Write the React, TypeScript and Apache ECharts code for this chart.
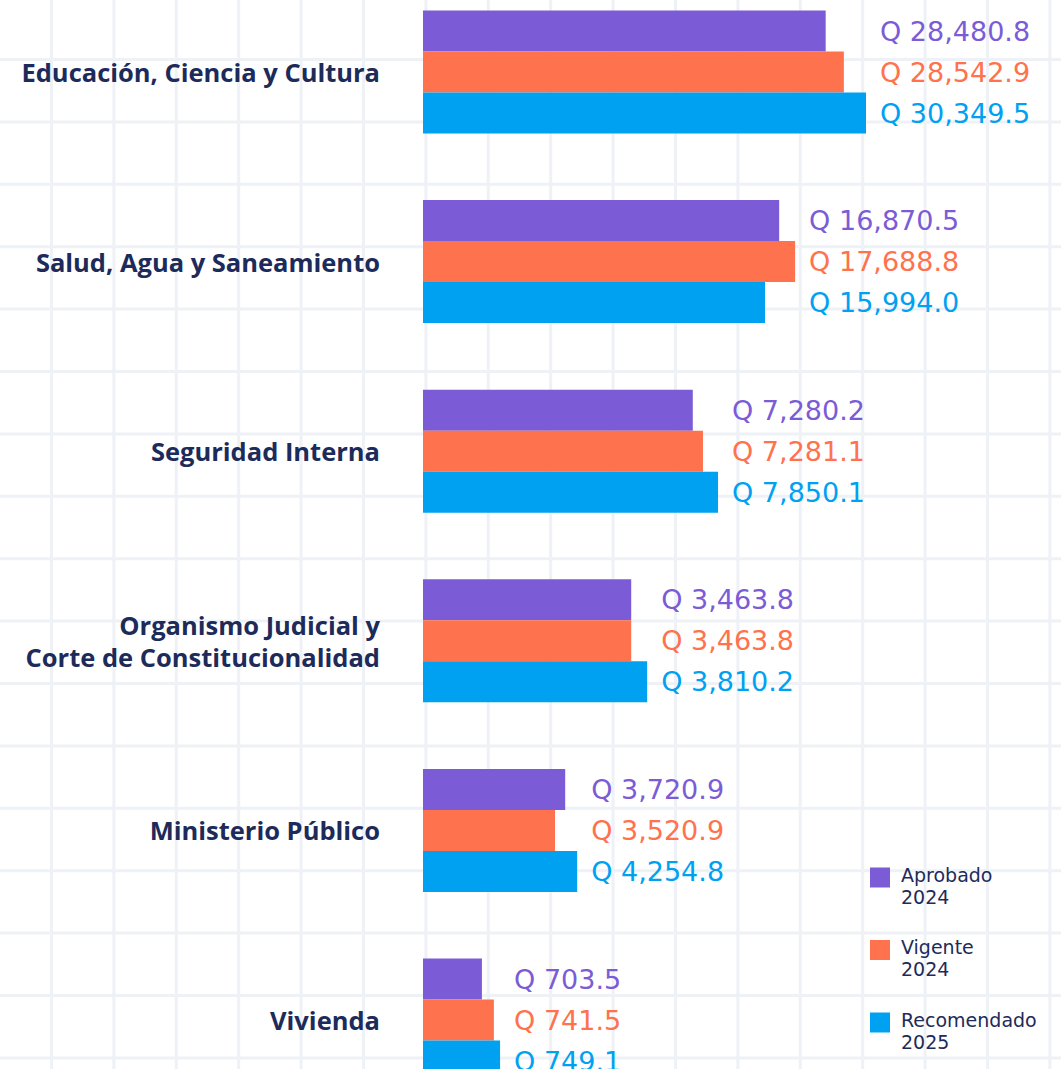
import React, { useEffect, useRef } from "react";
import * as echarts from "echarts";

// ---- Data ----
const categories = [
  "Educación, Ciencia y Cultura",
  "Salud, Agua y Saneamiento",
  "Seguridad Interna",
  "Organismo Judicial y\nCorte de Constitucionalidad",
  "Ministerio Público",
  "Vivienda",
];

const seriesNames = ["Aprobado 2024", "Vigente 2024", "Recomendado 2025"];

// Amounts in millions of quetzales (shown as labels)
const aprobado2024 = [28480.8, 16870.5, 7280.2, 3463.8, 3720.9, 703.5];
const vigente2024 = [28542.9, 17688.8, 7281.1, 3463.8, 3520.9, 741.5];
const recomendado2025 = [30349.5, 15994.0, 7850.1, 3810.2, 4254.8, 749.1];

// Bar lengths as drawn in the infographic (relative scale, longest bar = 100)
const largoAprobado = [90.9, 80.4, 60.9, 47.0, 32.1, 13.3];
const largoVigente = [95.0, 84.0, 63.2, 47.0, 29.8, 16.0];
const largoRecomendado = [100, 77.2, 66.6, 50.6, 34.8, 17.4];

const colors = ["#7b5cd6", "#ff724e", "#00a1f1"];
const NAVY = "#1d2b5a";
const BAR_W = 41;
const LABEL_GAP = 14;

// The chart canvas is a bit taller than the visible page (the reference is cropped)
const VIEW_W = 1061;
const VIEW_H = 1069;
const OFFSET_Y = 24;
const CHART_H = 1140;

const fmt = (v: number) =>
  "Q " +
  v.toLocaleString("en-US", {
    minimumFractionDigits: 1,
    maximumFractionDigits: 1,
  });

export default function App() {
  const ref = useRef<HTMLDivElement>(null);

  useEffect(() => {
    if (!ref.current) return;
    const chart = echarts.init(ref.current, null, { renderer: "svg" });

    const step = 62.4;
    const gridLines: any[] = [];
    for (let x = 51.5; x < VIEW_W; x += step) {
      gridLines.push({
        type: "line",
        silent: true,
        z: -10,
        shape: { x1: x, y1: 0, x2: x, y2: CHART_H },
        style: { stroke: "#eef1f6", lineWidth: 3 },
      });
    }
    for (let y = 59.5 - step; y < VIEW_H; y += step) {
      gridLines.push({
        type: "line",
        silent: true,
        z: -10,
        shape: { x1: 0, y1: y + OFFSET_Y, x2: VIEW_W, y2: y + OFFSET_Y },
        style: { stroke: "#eef1f6", lineWidth: 3 },
      });
    }

    const values = [aprobado2024, vigente2024, recomendado2025];
    const lengths = [largoAprobado, largoVigente, largoRecomendado];
    const labelData = categories.map((_, i) => [
      i,
      Math.max(largoAprobado[i], largoVigente[i], largoRecomendado[i]),
    ]);

    const option: any = {
      animation: false,
      backgroundColor: "#ffffff",
      graphic: gridLines,
      grid: {
        left: 423,
        width: 443,
        top: 1.2,
        height: 1137.6,
        containLabel: false,
      },
      legend: {
        orient: "vertical",
        left: 870,
        top: 847.5 + OFFSET_Y,
        padding: 0,
        itemWidth: 20,
        itemHeight: 20,
        itemGap: 14,
        icon: "rect",
        selectedMode: false,
        data: seriesNames,
        formatter: (name: string) => {
          const [a, b] = name.split(" ");
          return `{sp| }\n{t|${a}}\n{t|${b}}`;
        },
        textStyle: {
          color: NAVY,
          fontFamily: "DejaVu Sans",
          fontSize: 19,
          rich: {
            sp: { fontSize: 1, lineHeight: 16, height: 16 },
            t: {
              color: NAVY,
              fontFamily: "DejaVu Sans",
              fontSize: 19,
              lineHeight: 22,
              padding: [0, 0, 0, 6],
            },
          },
        },
      },
      xAxis: {
        type: "value",
        min: 0,
        max: 100,
        show: false,
      },
      yAxis: {
        type: "category",
        inverse: true,
        data: categories,
        axisLine: { show: false },
        axisTick: { show: false },
        splitLine: { show: false },
        axisLabel: {
          margin: 43,
          color: NAVY,
          fontFamily: "Open Sans",
          fontWeight: 700,
          fontSize: 25.5,
          lineHeight: 32,
          align: "right",
        },
      },
      series: [
        ...seriesNames.map((name, s) => ({
          name,
          type: "bar",
          data: lengths[s],
          barWidth: BAR_W,
          barGap: "0%",
          itemStyle: { color: colors[s] },
          silent: true,
        })),
        {
          type: "custom",
          silent: true,
          clip: false,
          z: 5,
          data: labelData,
          encode: { x: 1, y: 0 },
          renderItem: (params: any, api: any) => {
            const idx = api.value(0);
            const maxLen = api.value(1);
            const pt = api.coord([maxLen, idx]);
            return {
              type: "group",
              children: values.map((arr, s) => ({
                type: "text",
                x: pt[0] + LABEL_GAP,
                y: pt[1] + (s - 1) * BAR_W,
                style: {
                  text: fmt(arr[idx]),
                  fill: colors[s],
                  fontFamily: "DejaVu Sans",
                  fontSize: 27,
                  align: "left",
                  verticalAlign: "middle",
                },
              })),
            };
          },
        },
      ],
    };

    chart.setOption(option);
    return () => chart.dispose();
  }, []);

  return (
    <div
      style={{
        position: "absolute",
        left: 0,
        top: 0,
        width: VIEW_W,
        height: VIEW_H,
        overflow: "hidden",
        background: "#ffffff",
      }}
    >
      <div
        ref={ref}
        style={{
          position: "absolute",
          left: 0,
          top: -OFFSET_Y,
          width: VIEW_W,
          height: CHART_H,
        }}
      />
    </div>
  );
}
